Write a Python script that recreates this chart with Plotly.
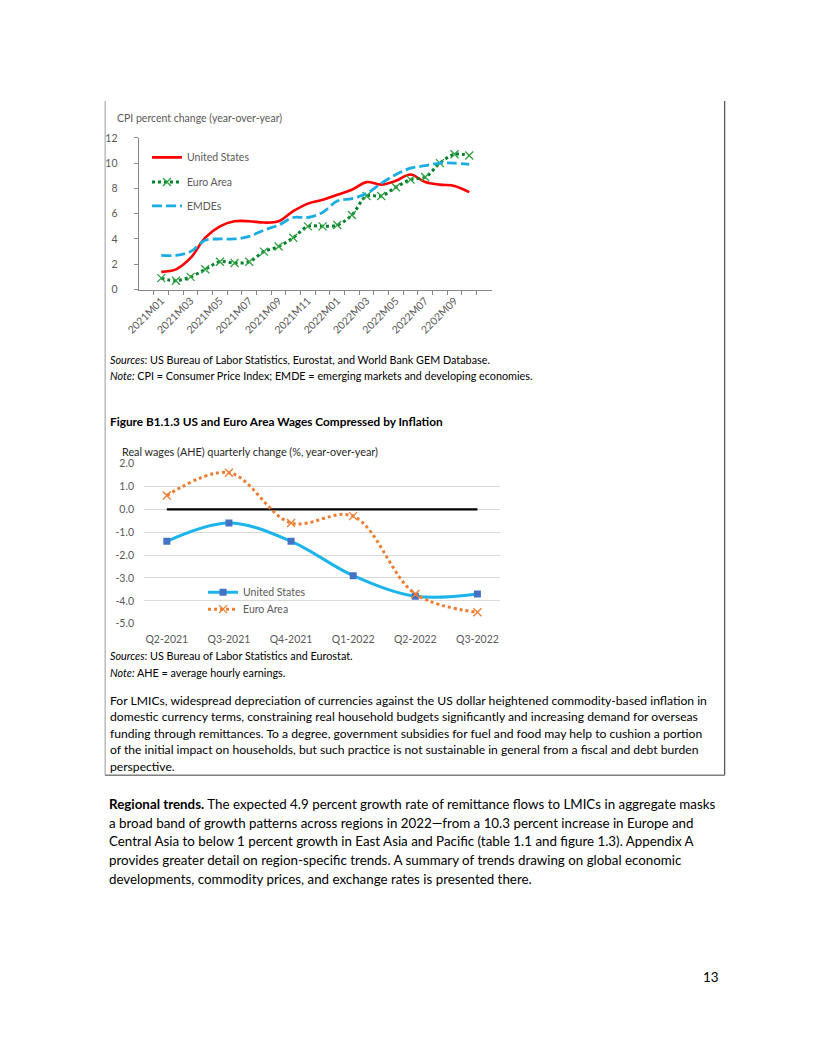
import plotly.graph_objects as go

# ---------------- data ----------------
cpi_months = ["2021M01", "2021M02", "2021M03", "2021M04", "2021M05", "2021M06",
              "2021M07", "2021M08", "2021M09", "2021M10", "2021M11", "2021M12",
              "2022M01", "2022M02", "2022M03", "2022M04", "2022M05", "2022M06",
              "2022M07", "2022M08", "2022M09", "2022M10"]
cpi_tick_labels = ["2021M01", "2021M03", "2021M05", "2021M07", "2021M09", "2021M11",
                   "2022M01", "2022M03", "2022M05", "2022M07", "2202M09"]
cpi_us = [1.4, 1.6, 2.5, 4.1, 5.0, 5.4, 5.4, 5.3, 5.4, 6.2, 6.8, 7.1,
          7.5, 7.9, 8.5, 8.3, 8.6, 9.1, 8.5, 8.3, 8.2, 7.7]
cpi_ea = [0.9, 0.7, 1.0, 1.6, 2.2, 2.1, 2.2, 3.0, 3.4, 4.1, 5.0, 5.0,
          5.1, 5.9, 7.4, 7.4, 8.1, 8.7, 8.9, 10.0, 10.7, 10.6]
cpi_emde = [2.7, 2.7, 3.0, 3.9, 4.0, 4.0, 4.2, 4.7, 5.1, 5.7, 5.7, 6.1,
            7.0, 7.2, 7.6, 8.4, 9.1, 9.6, 9.8, 10.0, 10.0, 9.9]
cpi_yticks = [0, 2, 4, 6, 8, 10, 12]

quarters = ["Q2-2021", "Q3-2021", "Q4-2021", "Q1-2022", "Q2-2022", "Q3-2022"]
wage_us = [-1.4, -0.6, -1.4, -2.9, -3.8, -3.7]
wage_ea = [0.6, 1.6, -0.6, -0.3, -3.7, -4.5]
wage_zero = [0, 0, 0, 0, 0, 0]
wage_yticks = [2, 1, 0, -1, -2, -3, -4, -5]
wage_ytick_labels = ["2.0", "1.0", "0.0", "-1.0", "-2.0", "-3.0", "-4.0", "-5.0"]

W, H = 816, 1056
OFF = 8  # page body margin of the browser
FONT = "Lato"
GRAY = "#595959"


def fx(px):
    return (px - OFF) / W


def fy(py):
    return 1 - (py - OFF) / H


fig = go.Figure()

# ---------------- chart 1: CPI ----------------
fig.add_trace(go.Scatter(x=cpi_months, y=cpi_us, name="United States", mode="lines",
                         line=dict(color="#FF0000", width=2.6, shape="spline"),
                         xaxis="x", yaxis="y", legend="legend"))
fig.add_trace(go.Scatter(x=cpi_months, y=cpi_ea, name="Euro Area", mode="lines+markers",
                         line=dict(color="#00802B", width=3, dash="dot", shape="spline"),
                         marker=dict(symbol="x-thin", size=8,
                                     line=dict(color="#2EA043", width=1.3)),
                         xaxis="x", yaxis="y", legend="legend2"))
fig.add_trace(go.Scatter(x=cpi_months, y=cpi_emde, name="EMDEs", mode="lines",
                         line=dict(color="#1AADE4", width=2.8, dash="10px,4px", shape="spline"),
                         xaxis="x", yaxis="y", legend="legend3"))

# ---------------- chart 2: wages ----------------
fig.add_trace(go.Scatter(x=quarters, y=wage_zero, mode="lines", showlegend=False,
                         line=dict(color="#000000", width=2.2),
                         xaxis="x2", yaxis="y2", hoverinfo="skip"))
fig.add_trace(go.Scatter(x=quarters, y=wage_us, name="United States", mode="lines+markers",
                         line=dict(color="#1CB4EA", width=3, shape="spline"),
                         marker=dict(symbol="square", size=7, color="#4472C4"),
                         xaxis="x2", yaxis="y2", legend="legend4"))
fig.add_trace(go.Scatter(x=quarters, y=wage_ea, name="Euro Area", mode="lines+markers",
                         line=dict(color="#ED7D31", width=3, dash="dot", shape="spline"),
                         marker=dict(symbol="x-thin", size=8,
                                     line=dict(color="#ED7D31", width=1.3)),
                         xaxis="x2", yaxis="y2", legend="legend5"))

cpi_ticktext = []
for i, m in enumerate(cpi_months):
    cpi_ticktext.append(cpi_tick_labels[i // 2] if i % 2 == 0 else "")


def legend_at(px, py):
    return dict(x=fx(px), y=fy(py), xanchor="left", yanchor="middle",
                bgcolor="rgba(0,0,0,0)", borderwidth=0,
                font=dict(size=10.5, color=GRAY, family=FONT))


fig.update_layout(
    width=W, height=H, margin=dict(l=0, r=0, t=0, b=0),
    paper_bgcolor="white", plot_bgcolor="white",
    font=dict(family=FONT, color="#000000"),
    xaxis=dict(domain=[fx(127.5), fx(486.5)], anchor="y", type="category",
               categoryorder="array", categoryarray=cpi_months,
               tickmode="array", tickvals=cpi_months, ticktext=cpi_ticktext,
               tickson="boundaries", ticks="outside", ticklen=4, tickcolor="#868686",
               showline=True, linecolor="#868686", linewidth=1, showgrid=False,
               tickangle=-45, tickfont=dict(size=10.5, color=GRAY, family=FONT)),
    yaxis=dict(domain=[fy(286.7), fy(133.3)], anchor="x", range=[0, 12],
               tickmode="array", tickvals=cpi_yticks,
               ticks="outside", ticklen=4, tickcolor="#868686",
               showline=True, linecolor="#868686", linewidth=1, showgrid=False,
               zeroline=False, ticklabelstandoff=14,
               tickfont=dict(size=10.5, color=GRAY, family=FONT)),
    xaxis2=dict(domain=[fx(133), fx(495)], anchor="y2", type="category",
                categoryorder="array", categoryarray=quarters,
                showline=False, ticks="", showgrid=False, ticklabelstandoff=8,
                tickfont=dict(size=10.5, color=GRAY, family=FONT)),
    yaxis2=dict(domain=[fy(624.7), fy(462.7)], anchor="x2", range=[-5, 2],
                tickmode="array", tickvals=wage_yticks, ticktext=wage_ytick_labels,
                showgrid=True, gridcolor="#D9D9D9", gridwidth=1, zeroline=False,
                showline=False, ticks="", ticklabelstandoff=9,
                tickfont=dict(size=10.5, color=GRAY, family=FONT)),
    legend=legend_at(136, 153),
    legend2=legend_at(136, 178),
    legend3=legend_at(136, 202),
    legend4=legend_at(193, 593),
    legend5=legend_at(193, 610),
    showlegend=True,
)


# ---------------- page texts ----------------
def text(px, py, s, size=12, color="#000000", anchor="left"):
    fig.add_annotation(x=fx(px), y=fy(py), xref="paper", yref="paper", text=s,
                       showarrow=False, xanchor=anchor, yanchor="middle",
                       font=dict(size=size, color=color, family=FONT))


text(104, 113, "CPI percent change (year-over-year)", 10.5, GRAY)
text(96, 357, "<i>Sources</i>: US Bureau of Labor Statistics, Eurostat, and World Bank GEM Database.", 10.8)
text(96, 374, "<i>Note:</i> CPI = Consumer Price Index; EMDE = emerging markets and developing economies.", 10.8)
text(96, 420, "<b>Figure B1.1.3 US and Euro Area Wages Compressed by Inflation</b>", 11.8)
text(109, 451, "Real wages (AHE) quarterly change (%, year-over-year)", 10.8, "#262626")
text(96, 657, "<i>Sources</i>: US Bureau of Labor Statistics and Eurostat.", 10.8)
text(96, 674, "<i>Note:</i> AHE = average hourly earnings.", 10.8)

box_lines = [
    "For LMICs, widespread depreciation of currencies against the US dollar heightened commodity-based inflation in",
    "domestic currency terms, constraining real household budgets significantly and increasing demand for overseas",
    "funding through remittances. To a degree, government subsidies for fuel and food may help to cushion a portion",
    "of the initial impact on households, but such practice is not sustainable in general from a fiscal and debt burden",
    "perspective.",
]
for i, ln in enumerate(box_lines):
    text(96, 702 + i * 16.8, ln, 12.15)

main_lines = [
    "<b>Regional trends.</b> The expected 4.9 percent growth rate of remittance flows to LMICs in aggregate masks",
    "a broad band of growth patterns across regions in 2022\u2014from a 10.3 percent increase in Europe and",
    "Central Asia to below 1 percent growth in East Asia and Pacific (table 1.1 and figure 1.3). Appendix A",
    "provides greater detail on region-specific trends. A summary of trends drawing on global economic",
    "developments, commodity prices, and exchange rates is presented there.",
]
for i, ln in enumerate(main_lines):
    text(95, 807 + i * 19, ln, 13.35)

text(719, 982, "13", 13.4, anchor="right")

# ---------------- box border ----------------
fig.add_shape(type="line", xref="paper", yref="paper", x0=fx(93.5), x1=fx(93.5),
              y0=fy(96), y1=fy(778), line=dict(color="#9A9A9A", width=1))
fig.add_shape(type="line", xref="paper", yref="paper", x0=fx(723), x1=fx(723),
              y0=fy(96), y1=fy(778), line=dict(color="#595959", width=1.3))
fig.add_shape(type="line", xref="paper", yref="paper", x0=fx(93.5), x1=fx(723),
              y0=fy(778), y1=fy(778), line=dict(color="#7F7F7F", width=1.3))

fig.write_html("out.html", config={"displayModeBar": False})
